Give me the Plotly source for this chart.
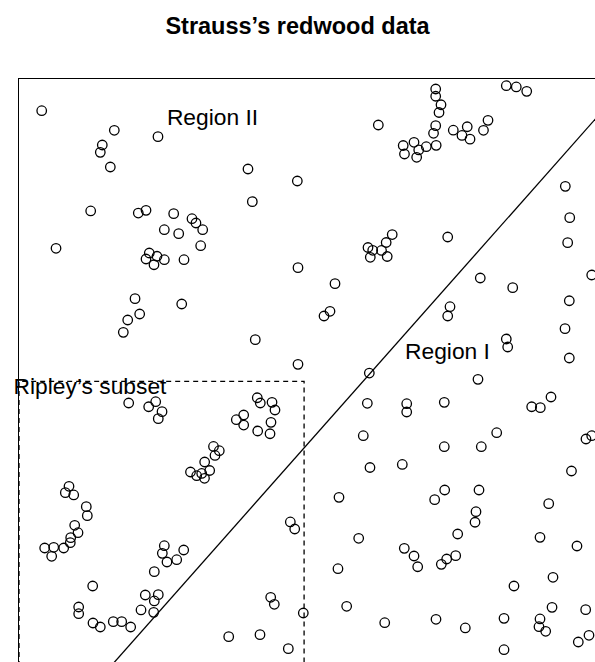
import plotly.graph_objects as go

# Tree locations (unit-square coordinates)
tree_x = [
    0.0376, 0.1578, 0.2301, 0.1379, 0.1346, 0.1512, 0.1187, 0.1975, 0.2103, 0.2561,
    0.2406, 0.2644, 0.2864, 0.2930, 0.3041, 0.3008, 0.0613, 0.2157, 0.2103, 0.2285,
    0.2406, 0.2235, 0.2732, 0.5949, 0.3791, 0.4608, 0.3863, 0.4619, 0.6899, 0.6899,
    0.6987, 0.6954, 0.6899, 0.6863, 0.7190, 0.7334, 0.7421, 0.7467, 0.7690, 0.7765,
    0.6361, 0.6540, 0.6382, 0.6618, 0.6584, 0.6743, 0.6907, 0.8068, 0.8233, 0.8406,
    0.6179, 0.6079, 0.5778, 0.5856, 0.6002, 0.5816, 0.6096, 0.7098, 0.9045, 0.9118,
    0.9084, 0.7637, 0.8174, 0.9482, 0.9111, 0.7136, 0.7098, 0.9040, 0.8068, 0.8091,
    0.9111, 0.7599, 0.7041, 0.6419, 0.6419, 0.8488, 0.8631, 0.8808, 0.7909, 0.7654,
    0.7041, 0.6346, 0.9387, 0.9482, 0.9147, 0.1921, 0.2694, 0.1998, 0.1800, 0.1727,
    0.1816, 0.2147, 0.2263, 0.2368, 0.2306, 0.5232, 0.5149, 0.5050, 0.3912, 0.4619,
    0.5800, 0.3945, 0.3995, 0.4189, 0.4238, 0.4172, 0.4156, 0.3952, 0.3720, 0.3598,
    0.3720, 0.5767, 0.5700, 0.5811, 0.3220, 0.3316, 0.3245, 0.3074, 0.3157, 0.2839,
    0.2942, 0.3025, 0.3071, 0.0828, 0.0767, 0.0906, 0.1114, 0.1131, 0.0922, 0.0977,
    0.0856, 0.0849, 0.0740, 0.0425, 0.0575, 0.0541, 0.1220, 0.2240, 0.2406, 0.2373,
    0.2450, 0.2611, 0.2727, 0.0988, 0.0988, 0.1225, 0.1346, 0.1561, 0.1700, 0.1849,
    0.2091, 0.2306, 0.2240, 0.2020, 0.2230, 0.5298, 0.5624, 0.5281, 0.5425, 0.6055,
    0.4492, 0.4565, 0.4167, 0.4227, 0.4707, 0.3472, 0.3990, 0.4459, 0.7048, 0.6882,
    0.7616, 0.7566, 0.7550, 0.8770, 0.7263, 0.8626, 0.9238, 0.6379, 0.6540, 0.6601,
    0.6992, 0.7081, 0.7230, 0.8841, 0.8195, 0.8825, 0.9382, 0.6904, 0.7389, 0.8030,
    0.8626, 0.8609, 0.8720, 0.9260, 0.9437, 0.8030,
]
tree_y = [
    0.9480, 0.9156, 0.9050, 0.8912, 0.8791, 0.8548, 0.7820, 0.7786, 0.7831, 0.7775,
    0.7510, 0.7444, 0.7692, 0.7621, 0.7510, 0.7245, 0.7202, 0.7124, 0.7025, 0.7070,
    0.7013, 0.6930, 0.7013, 0.9243, 0.8515, 0.8316, 0.7974, 0.6881, 0.9839, 0.9719,
    0.9579, 0.9450, 0.9232, 0.9106, 0.9157, 0.9070, 0.9214, 0.9009, 0.9156, 0.9321,
    0.8904, 0.8957, 0.8763, 0.8830, 0.8709, 0.8884, 0.8907, 0.9894, 0.9873, 0.9801,
    0.7430, 0.7298, 0.7215, 0.7169, 0.7166, 0.7053, 0.7066, 0.7389, 0.8228, 0.7709,
    0.7295, 0.6710, 0.6550, 0.6760, 0.6334, 0.6235, 0.6081, 0.5871, 0.5700, 0.5568,
    0.5386, 0.5033, 0.4652, 0.4629, 0.4492, 0.4579, 0.4563, 0.4740, 0.4149, 0.3917,
    0.3917, 0.3623, 0.4045, 0.4099, 0.3515, 0.6368, 0.6280, 0.6114, 0.6015, 0.5811,
    0.4641, 0.4579, 0.4662, 0.4497, 0.4381, 0.6616, 0.6159, 0.6081, 0.5689, 0.5281,
    0.5137, 0.4728, 0.4641, 0.4652, 0.4525, 0.4321, 0.4132, 0.4177, 0.4442, 0.4364,
    0.4276, 0.4636, 0.4099, 0.3573, 0.3921, 0.3851, 0.3772, 0.3664, 0.3523, 0.3498,
    0.3437, 0.3474, 0.3394, 0.3262, 0.3156, 0.3118, 0.2924, 0.2775, 0.2616, 0.2493,
    0.2411, 0.2328, 0.2240, 0.2240, 0.2252, 0.2103, 0.1611, 0.1848, 0.2278, 0.2152,
    0.2008, 0.2046, 0.2207, 0.1263, 0.1152, 0.0998, 0.0932, 0.1020, 0.1020, 0.0932,
    0.1462, 0.1467, 0.1363, 0.1214, 0.1175, 0.3079, 0.2401, 0.1897, 0.1275, 0.1003,
    0.2671, 0.2555, 0.1424, 0.1308, 0.1164, 0.0772, 0.0805, 0.0573, 0.3200, 0.3040,
    0.3200, 0.2841, 0.2666, 0.2974, 0.2472, 0.2417, 0.2273, 0.2235, 0.2108, 0.1930,
    0.1970, 0.2058, 0.2113, 0.1755, 0.1611, 0.1258, 0.1219, 0.1060, 0.0916, 0.1076,
    0.1065, 0.0937, 0.0861, 0.0684, 0.0795, 0.0556,
]

# Boundary between Region I and Region II
boundary_x = [0.127, 1.0]
boundary_y = [0.0, 0.986]

# Ripley's subset rectangle
ripley_x = [0.0, 0.472, 0.472, 0.0, 0.0]
ripley_y = [0.0, 0.0, 0.5, 0.5, 0.0]

# Region labels
label_text = ["Region II", "Region I", "Ripley\u2019s subset"]
label_x = [0.3204, 0.7094, 0.1175]
label_y = [0.9338, 0.5464, 0.4884]

FONT = "Liberation Sans, Arial, Helvetica, sans-serif"
W, H = 595, 662
L_MARGIN, T_MARGIN = 19, 79
UNIT_PX = 604.0  # pixels per unit (same on both axes)

fig = go.Figure()

fig.add_trace(go.Scatter(
    x=ripley_x, y=ripley_y, mode="lines",
    line=dict(color="black", width=1.3, dash="5px,4px"),
    hoverinfo="skip", showlegend=False,
))
fig.add_trace(go.Scatter(
    x=boundary_x, y=boundary_y, mode="lines",
    line=dict(color="black", width=1.3),
    hoverinfo="skip", showlegend=False,
))
fig.add_trace(go.Scatter(
    x=tree_x, y=tree_y, mode="markers",
    marker=dict(symbol="circle-open", size=9.5, color="black",
                line=dict(color="black", width=1.3)),
    showlegend=False,
))
fig.add_trace(go.Scatter(
    x=label_x, y=label_y, mode="text", text=label_text,
    textposition="middle center",
    textfont=dict(family=FONT, size=22.8, color="black"),
    hoverinfo="skip", showlegend=False, cliponaxis=False,
))

plot_w = W - L_MARGIN
plot_h = H - T_MARGIN
x_hi = plot_w / UNIT_PX
y_top = 1.0 + 0.3 / UNIT_PX
y_lo = y_top - plot_h / UNIT_PX

fig.update_layout(
    width=W, height=H,
    margin=dict(l=L_MARGIN, r=0, t=T_MARGIN, b=0, pad=0),
    paper_bgcolor="white", plot_bgcolor="white",
    title=dict(
        text="<b>Strauss\u2019s redwood data</b>",
        x=0.5, xanchor="center", xref="container",
        y=1 - 26 / H, yanchor="middle", yref="container",
        font=dict(family=FONT, size=23.5, color="black"),
    ),
    xaxis=dict(range=[0, x_hi], showgrid=False, zeroline=False,
               showticklabels=False, ticks="", side="top",
               showline=True, linecolor="black", linewidth=1.3),
    yaxis=dict(range=[y_lo, y_top], showgrid=False, zeroline=False,
               showticklabels=False, ticks="",
               showline=True, linecolor="black", linewidth=1.3),
    font=dict(family=FONT),
)

fig.write_html(
    "out.html",
    config={"displayModeBar": False},
    post_script="document.body.style.margin='0px';document.body.style.overflow='hidden';",
)
